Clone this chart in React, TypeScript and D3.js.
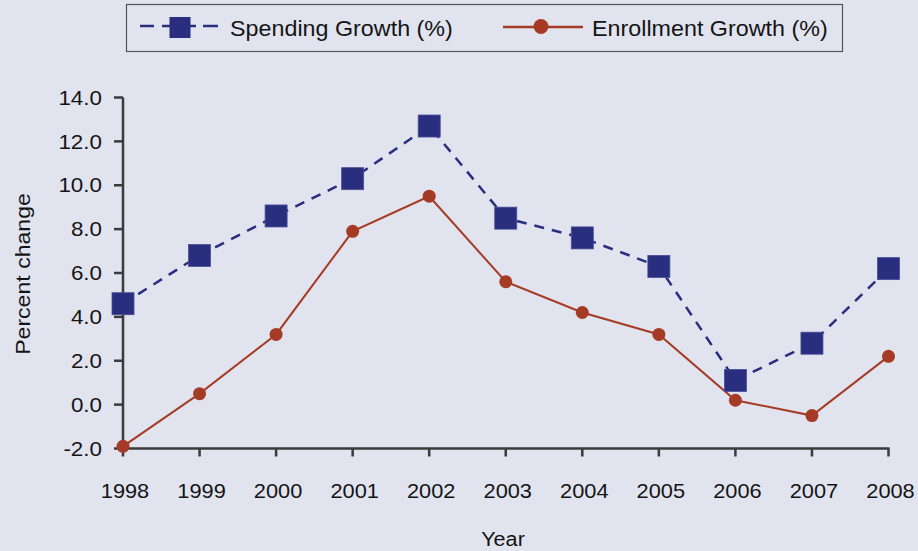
import React from "react";
import * as d3 from "d3";

const years = [1998, 1999, 2000, 2001, 2002, 2003, 2004, 2005, 2006, 2007, 2008];
const spending = [4.6, 6.8, 8.6, 10.3, 12.7, 8.5, 7.6, 6.3, 1.1, 2.8, 6.2];
const enrollment = [-1.9, 0.5, 3.2, 7.9, 9.5, 5.6, 4.2, 3.2, 0.2, -0.5, 2.2];
const yTicks = [-2, 0, 2, 4, 6, 8, 10, 12, 14];

const W = 918;
const H = 551;
const BG = "#e1e3ef";
const NAVY = "#2a2e7f";
const RUST = "#a63b25";
const AXIS = "#3b3b3b";
const INK = "#141414";
const FONT = "'Liberation Sans', Arial, Helvetica, sans-serif";

type TProps = {
  x: number;
  y: number;
  size: number;
  sx?: number;
  rot?: number;
  anchor?: "start" | "middle" | "end";
  dy?: string;
  children: React.ReactNode;
};

function T({ x, y, size, sx = 1, rot = 0, anchor = "start", dy, children }: TProps) {
  return (
    <text
      transform={`translate(${x},${y}) rotate(${rot}) scale(${sx},1)`}
      textAnchor={anchor}
      fontSize={size}
      dy={dy}
      fill={INK}
    >
      {children}
    </text>
  );
}

export default function App() {
  const x = d3.scaleLinear().domain([1998, 2008]).range([123, 888.5]);
  const y = d3.scaleLinear().domain([-2, 14]).range([448.5, 97.5]);

  const mk = (vals: number[]) =>
    d3
      .line<number>()
      .x((_, i) => x(years[i]))
      .y((d) => y(d))(vals) as string;

  const sq = 22;

  return (
    <svg
      width={W}
      height={H}
      style={{ position: "absolute", left: 0, top: 0, display: "block" }}
      fontFamily={FONT}
    >
      <rect x={0} y={0} width={W} height={H} fill={BG} />

      {/* Legend */}
      <rect x={126.5} y={4.5} width={716} height={47} fill="none" stroke="#555" strokeWidth={1.2} />
      <line x1={140} x2={154} y1={26} y2={26} stroke={NAVY} strokeWidth={2.5} />
      <line x1={162} x2={196} y1={26} y2={26} stroke={NAVY} strokeWidth={2.5} />
      <line x1={203} x2={218} y1={26} y2={26} stroke={NAVY} strokeWidth={2.5} />
      <rect x={169.5} y={17} width={21} height={21} fill={NAVY} />
      <T x={230} y={36} size={22} sx={1.06}>Spending Growth (%)</T>
      <line x1={503} x2={583} y1={27} y2={27} stroke={RUST} strokeWidth={2.5} />
      <circle cx={541} cy={26.5} r={7.5} fill={RUST} />
      <T x={592} y={36} size={22} sx={1.06}>Enrollment Growth (%)</T>

      {/* Axes */}
      <line x1={x(1998)} x2={x(1998)} y1={y(14)} y2={y(-2) + 1} stroke={AXIS} strokeWidth={2.5} />
      <line x1={x(1998) - 1} x2={x(2008) + 1} y1={y(-2)} y2={y(-2)} stroke={AXIS} strokeWidth={2.5} />
      {yTicks.map((t) => (
        <g key={t}>
          <line x1={x(1998) - 9} x2={x(1998)} y1={y(t)} y2={y(t)} stroke={AXIS} strokeWidth={2.5} />
          <T x={102} y={y(t)} dy="0.36em" anchor="end" size={20} sx={1.12}>
            {t.toFixed(1)}
          </T>
        </g>
      ))}
      {years.map((yr) => (
        <g key={yr}>
          <line x1={x(yr)} x2={x(yr)} y1={y(-2)} y2={y(-2) + 8} stroke={AXIS} strokeWidth={2.5} />
          <T x={x(yr) + 2} y={497.5} anchor="middle" size={20} sx={1.09}>
            {yr}
          </T>
        </g>
      ))}
      <T x={30} y={274} rot={-90} anchor="middle" size={21} sx={1.1}>
        Percent change
      </T>
      <T x={503} y={546} anchor="middle" size={21} sx={1.03}>
        Year
      </T>

      {/* Series */}
      <path d={mk(spending)} fill="none" stroke={NAVY} strokeWidth={2.5} strokeDasharray="10 8" />
      <path d={mk(enrollment)} fill="none" stroke={RUST} strokeWidth={2} />
      {spending.map((v, i) => (
        <rect
          key={"s" + i}
          x={x(years[i]) - sq / 2}
          y={y(v) - sq / 2}
          width={sq}
          height={sq}
          fill={NAVY}
          stroke="#4a4e96"
          strokeWidth={0.8}
        />
      ))}
      {enrollment.map((v, i) => (
        <circle key={"e" + i} cx={x(years[i])} cy={y(v)} r={6.5} fill={RUST} />
      ))}
    </svg>
  );
}
